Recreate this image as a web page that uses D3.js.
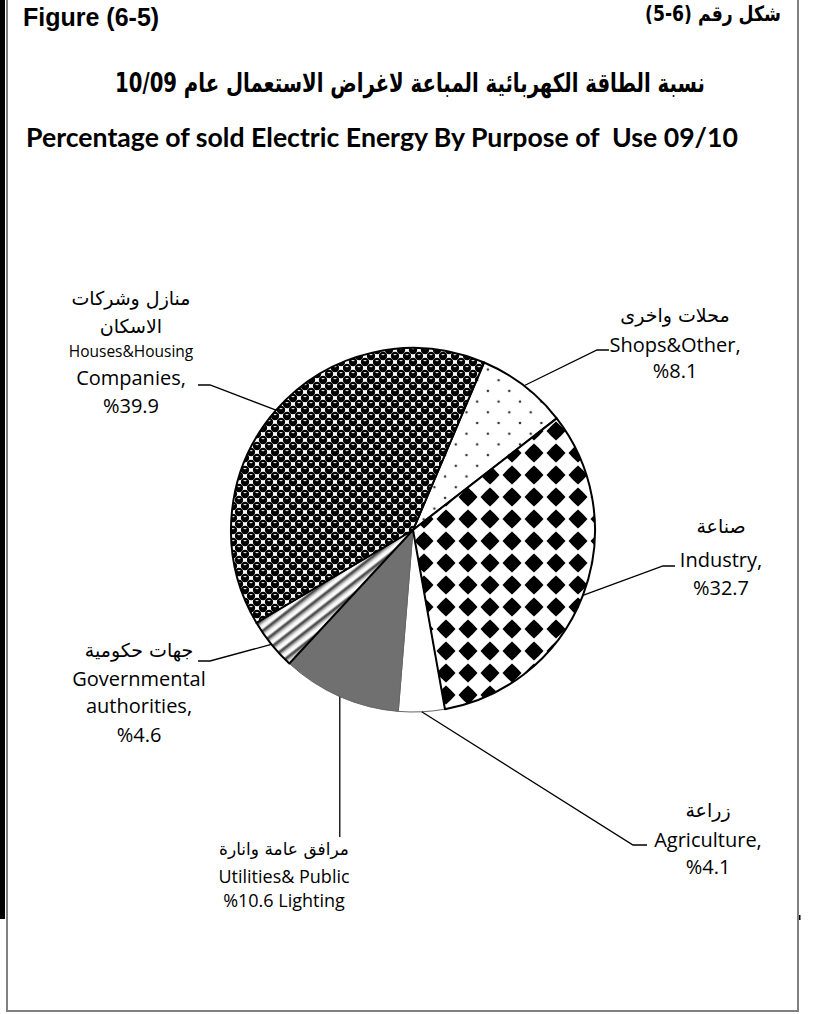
<!DOCTYPE html>
<html>
<head>
<meta charset="utf-8">
<script src="https://cdnjs.cloudflare.com/ajax/libs/d3/7.8.5/d3.min.js"></script>
<style>
  html, body { margin: 0; padding: 0; background: #fff; }
  svg { display: block; }
  text { white-space: pre; }
</style>
</head>
<body>
<svg id="chart"></svg>
<script>
// slices in drawing order, clockwise from the shops slice
var categories = ["Shops&Other", "Industry", "Agriculture", "Utilities& Public Lighting", "Governmental authorities", "Houses&Housing Companies"];
var shares = [8.1, 32.7, 4.1, 10.6, 4.6, 39.9];
var arLines = [["محلات واخرى"], ["صناعة"], ["زراعة"], ["مرافق عامة وانارة"], ["جهات حكومية"], ["منازل وشركات", "الاسكان"]];
var enLines = [["Shops&Other,", "{v}"], ["Industry,", "{v}"], ["Agriculture,", "{v}"], ["Utilities& Public", "{v} Lighting"], ["Governmental", "authorities,", "{v}"], ["Houses&Housing", "Companies,", "{v}"]];
var fills = ["url(#pDots)", "url(#pDiamond)", "#ffffff", "#707070", "url(#pStripe)", "url(#pSphere)"];

var figEn = "Figure (6-5)";
var figAr = "شكل رقم \u2066(5-6)\u2069";
var titleAr = "نسبة الطاقة الكهربائية المباعة لاغراض الاستعمال عام \u206610/09\u2069";
var titleEn = "Percentage of sold Electric Energy By Purpose of  Use 09/10";

var W = 813, H = 1014;
var cx = 413, cy = 530, R = 182;
var startDeg = 23;

// label placement: centre x, baselines, sizes, leader tick
var labelLayout = [
  { x: 675, ys: [322, 352, 378], sizes: [19, 20, 20], tick: [609, 597, 350] },
  { x: 721, ys: [533, 567, 595], sizes: [19, 20, 20], tick: [675, 663, 566] },
  { x: 708, ys: [817, 847, 874], sizes: [19, 20, 20], tick: [647, 633, 845] },
  { x: 284, ys: [855, 883, 907], sizes: [17, 18, 18], vert: 837 },
  { x: 139, ys: [657, 686, 713, 742], sizes: [19, 20, 20, 20], tick: [198, 210, 661] },
  { x: 131, ys: [305, 333, 357, 385, 413], sizes: [19, 19, 15.5, 20, 20], tick: [198, 210, 385] }
];

var svg = d3.select("#chart").attr("width", W).attr("height", H);
var defs = svg.append("defs");

// sphere pattern
var sp = defs.append("pattern").attr("id", "pSphere").attr("patternUnits", "userSpaceOnUse")
  .attr("width", 12).attr("height", 12);
sp.append("rect").attr("width", 12).attr("height", 12).attr("fill", "#fff");
[[0, 0], [12, 0], [0, 12], [12, 12], [6, 6]].forEach(function (c) {
  sp.append("circle").attr("cx", c[0]).attr("cy", c[1]).attr("r", 4.2).attr("fill", "#000");
  sp.append("ellipse").attr("cx", c[0]).attr("cy", c[1] - 1.4).attr("rx", 1.7).attr("ry", 0.6).attr("fill", "#eee");
});

// sparse dots
var dp = defs.append("pattern").attr("id", "pDots").attr("patternUnits", "userSpaceOnUse")
  .attr("width", 21.4).attr("height", 21.4);
dp.append("rect").attr("width", 21.4).attr("height", 21.4).attr("fill", "#fff");
[[0, 0], [21.4, 0], [0, 21.4], [21.4, 21.4], [10.7, 10.7]].forEach(function (c) {
  dp.append("circle").attr("cx", c[0]).attr("cy", c[1]).attr("r", 1.3).attr("fill", "#333");
});

// diamonds on a square grid
var dm = defs.append("pattern").attr("id", "pDiamond").attr("patternUnits", "userSpaceOnUse")
  .attr("width", 22).attr("height", 22);
dm.append("rect").attr("width", 22).attr("height", 22).attr("fill", "#fff");
var h = 9.5, k = 5.1;
var diamond = "M0," + (-h) + "Q" + k + "," + (-k) + " " + h + ",0Q" + k + "," + k + " 0," + h +
  "Q" + (-k) + "," + k + " " + (-h) + ",0Q" + (-k) + "," + (-k) + " 0," + (-h) + "Z";
dm.append("path").attr("d", diamond).attr("transform", "translate(11,11)").attr("fill", "#000");

// soft stripes
var grad = defs.append("linearGradient").attr("id", "gStripe").attr("x1", 0).attr("x2", 1).attr("y1", 0).attr("y2", 0);
[[0, "#f2f2f2"], [0.3, "#ffffff"], [0.55, "#2a2a2a"], [0.75, "#9a9a9a"], [1, "#f2f2f2"]].forEach(function (s) {
  grad.append("stop").attr("offset", s[0]).attr("stop-color", s[1]);
});
var st = defs.append("pattern").attr("id", "pStripe").attr("patternUnits", "userSpaceOnUse")
  .attr("width", 9).attr("height", 9).attr("patternTransform", "rotate(52)");
st.append("rect").attr("width", 9).attr("height", 9).attr("fill", "url(#gStripe)");

// frame
svg.append("rect").attr("x", 0).attr("y", 0).attr("width", 5).attr("height", 919).attr("fill", "#000");
svg.append("path").attr("d", "M7,0V1011H798V0").attr("fill", "none").attr("stroke", "#808080").attr("stroke-width", 2);
svg.append("rect").attr("x", 799).attr("y", 915).attr("width", 1.5).attr("height", 5).attr("fill", "#000");

// squeeze a heading horizontally so it spans the printed width
function heading(txt, x, y, width, size, family, rtl) {
  var hg = svg.append("g");
  var t = hg.append("text").attr("x", 0).attr("y", 0)
    .attr("text-anchor", "middle")
    .attr("direction", rtl ? "rtl" : "ltr")
    .attr("font-family", family).attr("font-weight", "bold").attr("font-size", size)
    .text(txt);
  var natural = t.node().getComputedTextLength();
  hg.attr("transform", "translate(" + x + "," + y + ") scale(" + (width / natural) + ",1)");
}

svg.append("text").attr("x", 23).attr("y", 26).text(figEn)
  .attr("font-family", "'Liberation Sans', Arial, sans-serif").attr("font-weight", "bold").attr("font-size", 25);
heading(figAr, 713, 21, 136, 21, "'DejaVu Sans', sans-serif", true);
heading(titleAr, 410, 92, 590, 26, "'DejaVu Sans', sans-serif", true);
heading(titleEn, 382, 147, 712, 27, "Lato, sans-serif", false);

// pie
var pie = d3.pie().sort(null).value(function (d) { return d; })
  .startAngle(startDeg * Math.PI / 180).endAngle(startDeg * Math.PI / 180 + 2 * Math.PI);
var arcs = pie(shares);
var arc = d3.arc().innerRadius(0).outerRadius(R);
var edge = d3.arc().innerRadius(R).outerRadius(R);

var g = svg.append("g").attr("transform", "translate(" + cx + "," + cy + ")");
var order = [2, 3, 0, 1, 4, 5];
g.selectAll("path.slice")
  .data(order.map(function (i) { return arcs[i]; }))
  .enter()
  .append("path")
  .attr("class", "slice")
  .attr("d", arc)
  .attr("fill", function (d) { return fills[d.index]; })
  .attr("stroke", function (d) { return (d.index === 2 || d.index === 3) ? "#666" : "#000"; })
  .attr("stroke-width", function (d) { return (d.index === 2 || d.index === 3) ? 1 : 2; })
  .attr("stroke-linejoin", "round");

// labels and leader lines
var fmt = d3.format(".1f");
arcs.forEach(function (d, i) {
  var L = labelLayout[i];
  var p = edge.centroid(d);
  var ex = cx + p[0], ey = cy + p[1];
  var pts;
  if (L.vert) {
    pts = [[ex, ey], [ex, L.vert]];
  } else {
    pts = [[L.tick[0], L.tick[2]], [L.tick[1], L.tick[2]], [ex, ey]];
  }
  svg.append("path").attr("d", d3.line()(pts))
    .attr("fill", "none").attr("stroke", "#000").attr("stroke-width", 1.3);

  var lines = arLines[i].map(function (t) { return { t: t, ar: true }; })
    .concat(enLines[i].map(function (t) { return { t: t.replace("{v}", "%" + fmt(d.data)), ar: false }; }));
  lines.forEach(function (ln, j) {
    svg.append("text")
      .attr("x", L.x).attr("y", L.ys[j])
      .attr("text-anchor", "middle")
      .attr("direction", ln.ar ? "rtl" : "ltr")
      .attr("font-family", ln.ar ? "'DejaVu Sans', sans-serif" : "'Open Sans', sans-serif")
      .attr("font-size", L.sizes[j])
      .attr("fill", "#000")
      .text(ln.t);
  });
});
</script>
</body>
</html>
